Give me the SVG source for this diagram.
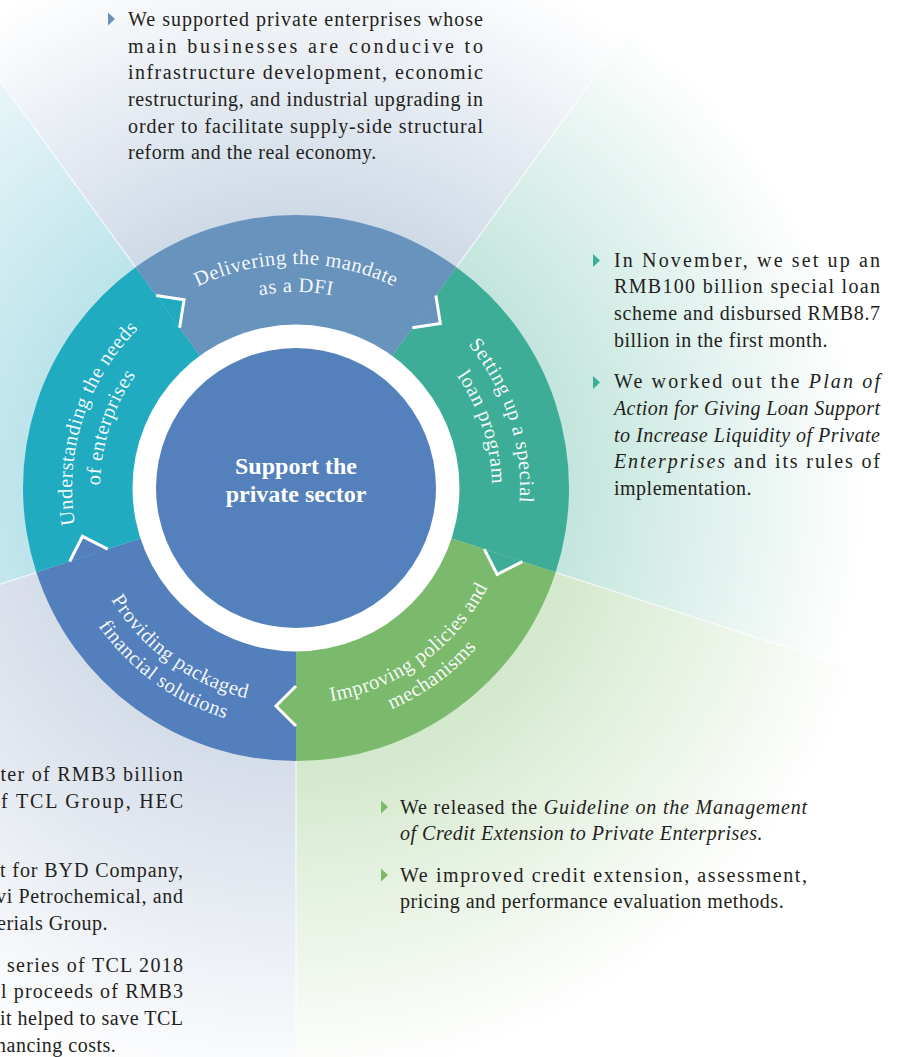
<svg xmlns="http://www.w3.org/2000/svg" width="918" height="1057" viewBox="0 0 918 1057">
  <defs>
    <style>
      .body{font-family:"Liberation Serif","Times New Roman",serif;font-size:20px;fill:#231f20}
      .ls{letter-spacing:0.5px}
      .it{font-style:italic}
      .lbl{font-family:"Liberation Serif","Times New Roman",serif;font-size:20.5px;fill:#ffffff;fill-opacity:0.95;letter-spacing:0.5px}
      .ctr{font-family:"Liberation Serif","Times New Roman",serif;font-size:24px;font-weight:bold;fill:#ffffff;text-anchor:middle}
      .tab-edge{fill:none;stroke:#ffffff;stroke-width:3;stroke-linejoin:miter;stroke-linecap:butt}
      .ray{stroke:#ffffff;stroke-width:1.5;stroke-opacity:0.6}
    </style>

    <!-- wedge backgrounds fade from the ring edge to white -->
    <radialGradient id="gTop" gradientUnits="userSpaceOnUse" cx="296" cy="488" r="560">
      <stop offset="0.487" stop-color="#cfdae7"/>
      <stop offset="1" stop-color="#ffffff"/>
    </radialGradient>
    <radialGradient id="gRight" gradientUnits="userSpaceOnUse" cx="296" cy="488" r="570">
      <stop offset="0.479" stop-color="#c3e5dd"/>
      <stop offset="1" stop-color="#ffffff"/>
    </radialGradient>
    <radialGradient id="gBotR" gradientUnits="userSpaceOnUse" cx="296" cy="488" r="590">
      <stop offset="0.463" stop-color="#d3e8cc"/>
      <stop offset="1" stop-color="#ffffff"/>
    </radialGradient>
    <radialGradient id="gBotL" gradientUnits="userSpaceOnUse" cx="296" cy="488" r="620">
      <stop offset="0.44" stop-color="#d5dde9"/>
      <stop offset="1" stop-color="#ffffff"/>
    </radialGradient>
    <radialGradient id="gLeft" gradientUnits="userSpaceOnUse" cx="296" cy="488" r="620">
      <stop offset="0.44" stop-color="#bde4eb"/>
      <stop offset="1" stop-color="#ffffff"/>
    </radialGradient>

    <!-- arcs that carry the ring labels -->
    <path id="pTop1" d="M102.01,376 A224,224 0 0 1 489.99,376"/>
    <path id="pTop2" d="M126.26,390 A196,196 0 0 1 465.74,390"/>
    <path id="pLeft1" d="M129.54,637.89 A224,224 0 0 1 249.43,268.90"/>
    <path id="pLeft2" d="M150.35,619.15 A196,196 0 0 1 255.25,296.29"/>
    <path id="pRight1" d="M342.57,268.90 A224,224 0 0 1 462.46,637.89"/>
    <path id="pRight2" d="M336.75,296.29 A196,196 0 0 1 441.65,619.15"/>
    <path id="pBotR1" d="M208.15,685.32 A216,216 0 0 0 510.82,465.42"/>
    <path id="pBotR2" d="M197.98,708.16 A241,241 0 0 0 535.68,462.81"/>
    <path id="pBotL1" d="M81.18,465.42 A216,216 0 0 0 383.85,685.32"/>
    <path id="pBotL2" d="M56.32,462.81 A241,241 0 0 0 394.02,708.16"/>
  </defs>

  <rect x="0" y="0" width="918" height="1057" fill="#ffffff"/>

  <!-- background wedges -->
  <g id="background">
    <polygon points="296,488 -585.7,-725.5 1177.7,-725.5" fill="url(#gTop)"/>
    <polygon points="296,488 1177.7,-725.5 1722.6,951.5" fill="url(#gRight)"/>
    <polygon points="296,488 1722.6,951.5 296,1988" fill="url(#gBotR)"/>
    <polygon points="296,488 296,1988 -1130.6,951.5" fill="url(#gBotL)"/>
    <polygon points="296,488 -1130.6,951.5 -585.7,-725.5" fill="url(#gLeft)"/>
    <line class="ray" x1="135.53" y1="267.14" x2="-585.7" y2="-725.5"/>
    <line class="ray" x1="456.47" y1="267.14" x2="1177.7" y2="-725.5"/>
    <line class="ray" x1="555.64" y1="572.36" x2="1722.6" y2="951.5"/>
    <line class="ray" x1="296" y1="761" x2="296" y2="1988"/>
    <line class="ray" x1="36.36" y1="572.36" x2="-1130.6" y2="951.5"/>
  </g>

  <!-- ring segments -->
  <g id="node-delivering">
    <path d="M135.53,267.14 A273,273 0 0 1 456.47,267.14 L384.17,366.65 A150,150 0 0 0 207.83,366.65 Z" fill="#6893bd"/>
    <text class="lbl"><textPath href="#pTop1" startOffset="50%" text-anchor="middle">Delivering the mandate</textPath></text>
    <text class="lbl"><textPath href="#pTop2" startOffset="50%" text-anchor="middle">as a DFI</textPath></text>
  </g>
  <g id="node-loan-program">
    <path d="M456.47,267.14 A273,273 0 0 1 555.64,572.36 L438.66,534.35 A150,150 0 0 0 384.17,366.65 Z" fill="#3dad97"/>
    <text class="lbl"><textPath href="#pRight1" startOffset="50%" text-anchor="middle">Setting up a special</textPath></text>
    <text class="lbl"><textPath href="#pRight2" startOffset="50%" text-anchor="middle">loan program</textPath></text>
  </g>
  <g id="node-policies">
    <path d="M555.64,572.36 A273,273 0 0 1 296,761 L296,638 A150,150 0 0 0 438.66,534.35 Z" fill="#7bb96d"/>
    <text class="lbl"><textPath href="#pBotR1" startOffset="50%" text-anchor="middle">Improving policies and</textPath></text>
    <text class="lbl"><textPath href="#pBotR2" startOffset="50%" text-anchor="middle">mechanisms</textPath></text>
  </g>
  <g id="node-packaged">
    <path d="M296,761 A273,273 0 0 1 36.36,572.36 L153.34,534.35 A150,150 0 0 0 296,638 Z" fill="#5380bc"/>
    <text class="lbl"><textPath href="#pBotL1" startOffset="50%" text-anchor="middle">Providing packaged</textPath></text>
    <text class="lbl"><textPath href="#pBotL2" startOffset="50%" text-anchor="middle">financial solutions</textPath></text>
  </g>
  <g id="node-understanding">
    <path d="M36.36,572.36 A273,273 0 0 1 135.53,267.14 L207.83,366.65 A150,150 0 0 0 153.34,534.35 Z" fill="#21abc1"/>
    <text class="lbl"><textPath href="#pLeft1" startOffset="50%" text-anchor="middle">Understanding the needs</textPath></text>
    <text class="lbl"><textPath href="#pLeft2" startOffset="50%" text-anchor="middle">of enterprises</textPath></text>
  </g>

  <!-- arrow tabs linking each segment to the next one clockwise -->
  <g id="connectors">
    <polygon points="179.62,327.81 184.04,299.87 156.11,295.45" fill="#21abc1"/>
    <polyline class="tab-edge" points="179.62,327.81 184.04,299.87 156.11,295.45"/>
    <polygon points="412.38,327.81 440.32,323.39 435.89,295.45" fill="#6893bd"/>
    <polyline class="tab-edge" points="412.38,327.81 440.32,323.39 435.89,295.45"/>
    <polygon points="484.31,549.19 497.15,574.39 522.35,561.55" fill="#3dad97"/>
    <polyline class="tab-edge" points="484.31,549.19 497.15,574.39 522.35,561.55"/>
    <polygon points="296,686 276,706 296,726" fill="#7bb96d"/>
    <polyline class="tab-edge" points="296,686 276,706 296,726"/>
    <polygon points="107.69,549.19 82.49,536.35 69.65,561.55" fill="#5380bc"/>
    <polyline class="tab-edge" points="107.69,549.19 82.49,536.35 69.65,561.55"/>
  </g>

  <!-- hub -->
  <g id="node-center">
    <circle cx="296" cy="488" r="163.5" fill="#ffffff"/>
    <circle cx="296" cy="488" r="140" fill="#5480bc"/>
    <text class="ctr" x="296" y="474">Support the</text>
    <text class="ctr" x="296" y="502">private sector</text>
  </g>

  <!-- note: top -->
  <g id="note-top">
    <polygon points="108,12.5 115,19 108,25.5" fill="#6893bd"/>
    <text class="body" x="128" y="26" textLength="355" lengthAdjust="spacing">We supported private enterprises whose</text>
    <text class="body" x="128" y="52.7" textLength="355" lengthAdjust="spacing">main businesses are conducive to</text>
    <text class="body" x="128" y="79.3" textLength="355" lengthAdjust="spacing">infrastructure development, economic</text>
    <text class="body" x="128" y="106" textLength="355" lengthAdjust="spacing">restructuring, and industrial upgrading in</text>
    <text class="body" x="128" y="132.7" textLength="355" lengthAdjust="spacing">order to facilitate supply-side structural</text>
    <text class="body ls" x="128" y="159.3">reform and the real economy.</text>
  </g>

  <!-- note: right -->
  <g id="note-right">
    <polygon points="593,254 600,260.5 593,267" fill="#3dad97"/>
    <text class="body" x="614" y="266.7" textLength="266" lengthAdjust="spacing">In November, we set up an</text>
    <text class="body" x="614" y="293.3" textLength="266" lengthAdjust="spacing">RMB100 billion special loan</text>
    <text class="body" x="614" y="320" textLength="266" lengthAdjust="spacing">scheme and disbursed RMB8.7</text>
    <text class="body ls" x="614" y="346.7">billion in the first month.</text>
    <polygon points="593,376 600,382.5 593,389" fill="#3dad97"/>
    <text class="body" x="614" y="388.3" textLength="266" lengthAdjust="spacing">We worked out the <tspan class="it">Plan of</tspan></text>
    <text class="body it" x="614" y="415" textLength="266" lengthAdjust="spacing">Action for Giving Loan Support</text>
    <text class="body it" x="614" y="441.7" textLength="266" lengthAdjust="spacing">to Increase Liquidity of Private</text>
    <text class="body" x="614" y="468.3" textLength="266" lengthAdjust="spacing"><tspan class="it">Enterprises</tspan> and its rules of</text>
    <text class="body ls" x="614" y="495">implementation.</text>
  </g>

  <!-- note: bottom right -->
  <g id="note-bottom-right">
    <polygon points="381,800.5 388,807 381,813.5" fill="#7bb96d"/>
    <text class="body" x="400" y="814" textLength="407" lengthAdjust="spacing">We released the <tspan class="it">Guideline on the Management</tspan></text>
    <text class="body it ls" x="400" y="840">of Credit Extension to Private Enterprises.</text>
    <polygon points="381,868.5 388,875 381,881.5" fill="#7bb96d"/>
    <text class="body" x="400" y="881.7" textLength="407" lengthAdjust="spacing">We improved credit extension, assessment,</text>
    <text class="body ls" x="400" y="908.3">pricing and performance evaluation methods.</text>
  </g>

  <!-- note: bottom left (runs off the left edge) -->
  <g id="note-bottom-left">
    <text class="body" x="0.5" y="781" textLength="182.5" lengthAdjust="spacing">ter of RMB3 billion</text>
    <text class="body" x="1" y="807.7" textLength="182" lengthAdjust="spacing">f TCL Group, HEC</text>
    <text class="body" x="0" y="876.5" textLength="183" lengthAdjust="spacing">t for BYD Company,</text>
    <text class="body" x="-4" y="903.3" textLength="187" lengthAdjust="spacing">vi Petrochemical, and</text>
    <text class="body ls" x="-3" y="929.9">erials Group.</text>
    <text class="body" x="7" y="971.7" textLength="176" lengthAdjust="spacing">series of TCL 2018</text>
    <text class="body" x="1" y="998.3" textLength="182" lengthAdjust="spacing">l proceeds of RMB3</text>
    <text class="body" x="0" y="1025" textLength="183" lengthAdjust="spacing">it helped to save TCL</text>
    <text class="body ls" x="-4" y="1051.7">nancing costs.</text>
  </g>
</svg>
